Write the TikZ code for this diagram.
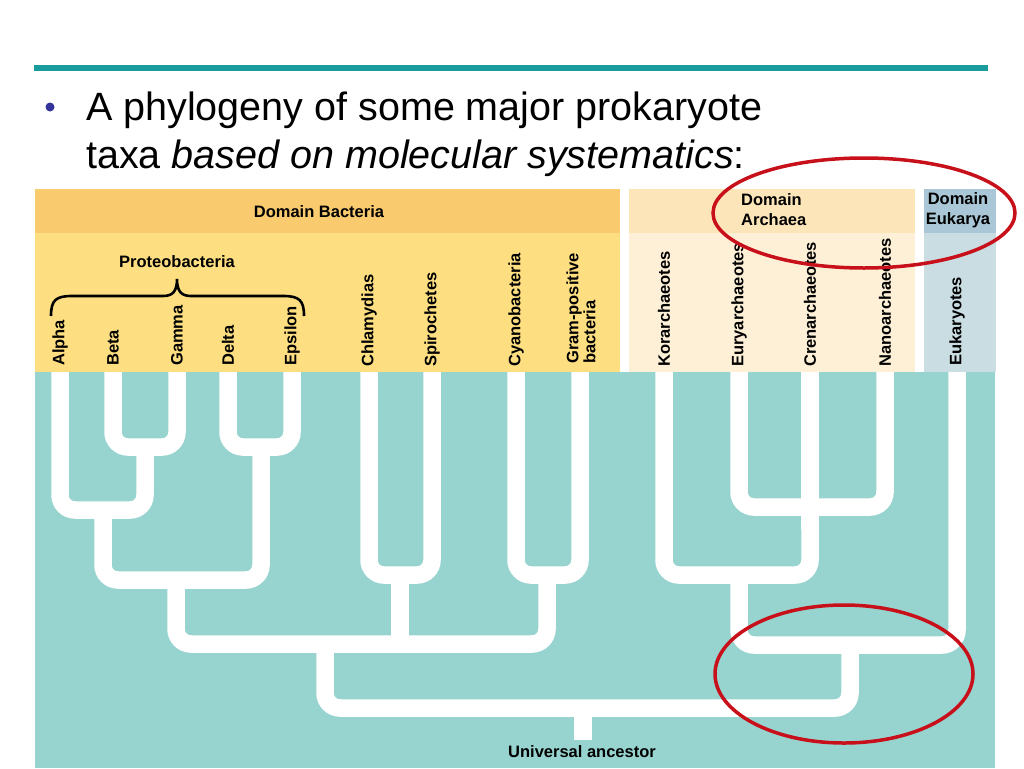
\documentclass[tikz,border=0pt]{standalone}
\usepackage{fontspec}
\setmainfont{Liberation Sans}
\definecolor{tealline}{HTML}{1A9C9C}
\definecolor{bulletblue}{HTML}{333399}
\definecolor{bacTop}{HTML}{F9CB6E}
\definecolor{bacLow}{HTML}{FDDE80}
\definecolor{arcTop}{HTML}{FDE5BA}
\definecolor{arcLow}{HTML}{FEF0D6}
\definecolor{eukTop}{HTML}{A9C7D6}
\definecolor{eukLow}{HTML}{C9DDE3}
\definecolor{treebg}{HTML}{97D4D0}
\definecolor{ringred}{HTML}{C8101A}
\begin{document}
\begin{tikzpicture}[x=1pt,y=-1pt,
  tax/.style={font=\bfseries\fontsize{16.5}{17}\selectfont, rotate=90, anchor=west, inner sep=0pt},
  band/.style={font=\bfseries\fontsize{16.5}{20}\selectfont, inner sep=0pt},
  branch/.style={draw=white, line width=17.5pt, rounded corners=15pt},
  stem/.style={draw=white, line width=17.5pt},
  ring/.style={draw=ringred, line width=3.5pt}
]
\useasboundingbox (0,0) rectangle (1024,768);
\fill[white] (0,0) rectangle (1024,768);
% header rule
\fill[tealline] (34,65) rectangle (988,71);
% title
\fill[bulletblue] (50,107) circle (4.5);
\node[anchor=base west, inner sep=0pt, font=\fontsize{39.5}{48}\selectfont] (t1) at (86,120) {A phylogeny of some major prokaryote};
\node[anchor=base west, inner sep=0pt, font=\fontsize{39.5}{48}\selectfont] (t2) at (86,168) {taxa \textit{based on molecular systematics}:};
% bands
\fill[bacTop] (35,189) rectangle (620,233);
\fill[bacLow] (35,233) rectangle (620,372);
\fill[arcTop] (629,189) rectangle (915,233);
\fill[arcLow] (629,233) rectangle (915,372);
\fill[eukTop] (924,189) rectangle (996,233);
\fill[eukLow] (924,233) rectangle (996,372);
\fill[treebg] (35,372) rectangle (995,768);
% band titles
\node[band] (dbac) at (319,212) {Domain Bacteria};
\node[band, align=left, anchor=west] (darc) at (741,210) {Domain\\Archaea};
\node[band, align=center] (deuk) at (958,210) {Domain\\Eukarya};
\node[band] (prot) at (177,262) {Proteobacteria};
% brace
\draw[line width=2.6pt] (51,316) .. controls (51,300) and (56,296) .. (72,296) -- (163,296) .. controls (173,296) and (177,291) .. (177,279) .. controls (177,291) and (181,296) .. (191,296) -- (283,296) .. controls (299,296) and (304,300) .. (304,316);
% taxa labels
\node[tax] (alpha) at (60,366) {Alpha};
\node[tax] (beta) at (113,366) {Beta};
\node[tax] (gamma) at (177,366) {Gamma};
\node[tax] (delta) at (228,366) {Delta};
\node[tax] (eps) at (292,366) {Epsilon};
\node[tax] (chl) at (369,367) {Chlamydias};
\node[tax] (spi) at (432,367) {Spirochetes};
\node[tax] (cya) at (516,367) {Cyanobacteria};
\node[tax, align=left] (gram) at (581,364) {Gram-positive\\bacteria};
\node[tax] (kor) at (664,367) {Korarchaeotes};
\node[tax] (eur) at (739,367) {Euryarchaeotes};
\node[tax] (cre) at (810,367) {Crenarchaeotes};
\node[tax] (nan) at (885,367) {Nanoarchaeotes};
\node[tax] (euk) at (957,366) {Eukaryotes};
% tree
\path[branch] (113,372) -- (113,447) -- (177,447) -- (177,372);
\path[branch] (228,372) -- (228,447) -- (292,447) -- (292,372);
\path[branch] (60,372) -- (60,510) -- (145,510) -- (145,447);
\path[branch] (103,510) -- (103,580) -- (261,580) -- (261,447);
\path[branch] (369,372) -- (369,575) -- (432,575) -- (432,372);
\path[branch] (516,372) -- (516,575) -- (580,575) -- (580,372);
\path[stem] (400,575) -- (400,644);
\path[branch] (176,580) -- (176,644) -- (547,644) -- (547,575);
\path[branch] (739,372) -- (739,507) -- (885,507) -- (885,372);
\path[stem] (810,372) -- (810,530);
\path[branch] (664,372) -- (664,575) -- (810,575) -- (810,507);
\path[branch] (739,575) -- (739,645) -- (957,645) -- (957,372);
\path[branch] (325,644) -- (325,708) -- (850,708) -- (850,645);
\path[stem] (583,708) -- (583,740);
\node[band] (ua) at (582,752) {Universal ancestor};
% rings
\draw[ring] (864,213) ellipse (151 and 55);
\draw[ring] (844,674) ellipse (129 and 69);
\end{tikzpicture}
\end{document}
